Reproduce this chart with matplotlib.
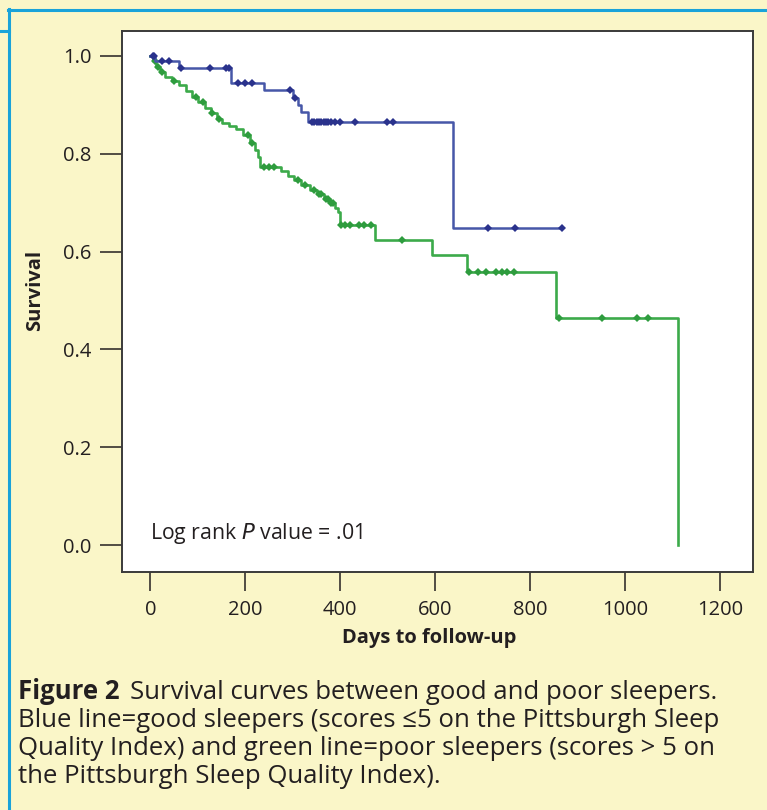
import numpy as np
import matplotlib
matplotlib.use("Agg")
import matplotlib.pyplot as plt

plt.rcParams['font.family'] = ['Open Sans', 'DejaVu Sans']

# good sleepers (blue): event days and survival after each drop
good_days = [10, 60, 170, 239, 300, 310, 318, 333, 637]
good_surv = [0.99, 0.975, 0.945, 0.93, 0.915, 0.90, 0.885, 0.865, 0.648]
good_censor = [5, 8, 25, 40, 65, 125, 160, 165, 185, 200, 215, 295, 305,
               340, 345, 350, 355, 360, 365, 370, 375, 380, 390, 400,
               431, 498, 511, 712, 769, 867]
good_end = 867

# poor sleepers (green)
poor_days = [5, 12, 20, 30, 45, 60, 75, 88, 100, 115, 128, 140, 150, 165,
             180, 195, 210, 220, 226, 230, 275, 290, 302, 318, 337, 350,
             365, 379, 390, 396, 400, 473, 593, 668, 855, 1112]
poor_surv = [0.99, 0.978, 0.968, 0.957, 0.948, 0.94, 0.928, 0.916, 0.905,
             0.894, 0.884, 0.872, 0.863, 0.856, 0.85, 0.838, 0.822, 0.808,
             0.793, 0.773, 0.765, 0.755, 0.746, 0.736, 0.726, 0.717, 0.708,
             0.70, 0.69, 0.68, 0.655, 0.624, 0.593, 0.559, 0.464, 0.0]
poor_censor = [10, 15, 25, 50, 95, 110, 130, 145, 205, 215, 240, 250, 260,
               310, 325, 345, 355, 360, 370, 375, 380, 385,
               402, 410, 420, 440, 450, 465, 530,
               672, 690, 708, 729, 742, 752, 767, 861, 951, 1026, 1049]
poor_end = 1112

xticks = [0, 200, 400, 600, 800, 1000, 1200]
yticks = [0.0, 0.2, 0.4, 0.6, 0.8, 1.0]

cream = '#faf6c8'
border = '#1aa3d9'
ink = '#231f20'

fig = plt.figure(figsize=(7.67, 8.1), dpi=100)
fig.patch.set_facecolor(cream)

# blue frame of the figure box
fig.add_artist(plt.Line2D([9 / 767, 9 / 767], [0, 1 - 9 / 810], color=border, lw=2.2))
fig.add_artist(plt.Line2D([8 / 767, 1], [1 - 10 / 810, 1 - 10 / 810], color=border, lw=2.2))
fig.add_artist(plt.Line2D([0, 9 / 767], [1 - 31 / 810, 1 - 31 / 810], color=border, lw=2.2))

ax = fig.add_axes([122 / 767, 1 - 572 / 810, 631 / 767, 541 / 810])
ax.set_facecolor('white')


def km_curve(days, surv, end):
    t = np.concatenate([[0], days, [end]])
    s = np.concatenate([[1.0], surv, [surv[-1]]])
    return t, s


def surv_at(days, surv, x):
    idx = np.searchsorted(days, x, side='right')
    s = np.concatenate([[1.0], surv])
    return s[idx]


t, s = km_curve(good_days, good_surv, good_end)
ax.step(t, s, where='post', color='#4657a8', lw=1.8, zorder=3)
ax.plot(good_censor, surv_at(good_days, good_surv, good_censor), 'D',
        color='#2a328c', ms=4.5, mew=0, zorder=4)

t, s = km_curve(poor_days, poor_surv, poor_end)
ax.step(t, s, where='post', color='#3caa4a', lw=1.9, zorder=2)
ax.plot(poor_censor, surv_at(poor_days, poor_surv, poor_censor), 'D',
        color='#2e9c3e', ms=4.5, mew=0, zorder=2)

ax.set_xlim(-60, 1270)
ax.set_ylim(-0.055, 1.051)
ax.set_xticks(xticks)
ax.set_xticklabels([str(v) for v in xticks])
ax.set_yticks(yticks)
ax.set_yticklabels(['%.1f' % v for v in yticks])
ax.tick_params(axis='y', length=16, width=1.1, pad=6, labelsize=14.5, colors=ink)
ax.tick_params(axis='x', length=14, width=1.1, pad=6, labelsize=14.5, colors=ink)
for sp in ax.spines.values():
    sp.set_color('#3a3a3a')
    sp.set_linewidth(1.4)

ax.text(0.0, 0.012, 'Log rank $\\it{P}$ value = .01', fontsize=15.3,
        color=ink, va='baseline', transform=ax.transData)

fig.text(35 / 767, 1 - 290 / 810, 'Survival', rotation=90, fontsize=14.5,
         fontweight='bold', color=ink, ha='center', va='center')
fig.text(429 / 767, 1 - 638 / 810, 'Days to follow-up', fontsize=14.5,
         fontweight='bold', color=ink, ha='center', va='center')

# caption
cap_x = 18 / 767
cap_size = 18.5
lines = [
    'Blue line=good sleepers (scores \u22645 on the Pittsburgh Sleep',
    'Quality Index) and green line=poor sleepers (scores > 5 on',
    'the Pittsburgh Sleep Quality Index).',
]
head = fig.text(cap_x, 1 - 699 / 810, 'Figure 2', fontsize=cap_size,
                fontweight='bold', color=ink, va='baseline')
fig.canvas.draw()
bb = head.get_window_extent()
fig.text(bb.x1 / 767 + 10 / 767, 1 - 699 / 810,
         'Survival curves between good and poor sleepers.',
         fontsize=cap_size, color=ink, va='baseline')
for i, line in enumerate(lines):
    fig.text(cap_x, 1 - (727 + 28 * i) / 810, line, fontsize=cap_size,
             color=ink, va='baseline')

fig.savefig('out.png', dpi=100, facecolor=cream)
